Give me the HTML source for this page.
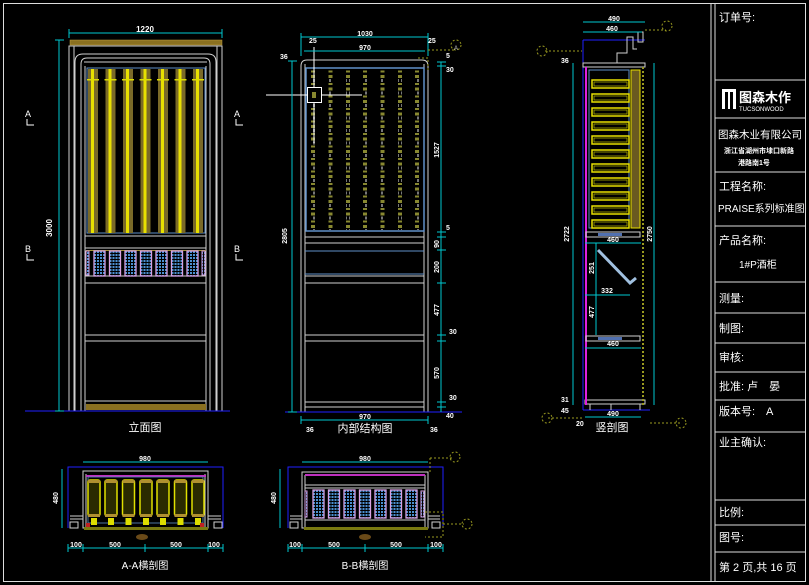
<!DOCTYPE html>
<html><head><meta charset="utf-8"><style>
html,body{margin:0;padding:0;background:#000;width:809px;height:585px;overflow:hidden}
svg{display:block}
text{font-family:"Liberation Sans","Noto Sans CJK SC",sans-serif}
.w{fill:#fff}
</style></head><body>
<svg width="809" height="585" viewBox="0 0 809 585" xmlns="http://www.w3.org/2000/svg">
<defs>
<pattern id="dots" x="0" y="0" width="4" height="12.5" patternUnits="userSpaceOnUse">
<rect x="0" y="0" width="4" height="3" fill="#888830"/><rect x="1" y="4" width="2" height="3" fill="#777"/><rect x="0" y="8" width="4" height="2" fill="#888830"/></pattern>
<pattern id="mesh" width="3" height="3" patternUnits="userSpaceOnUse"><rect width="3" height="3" fill="#000"/><rect width="2" height="2" fill="#4a8fd0"/></pattern>
<g id="bar"><rect x="0" y="0" width="10" height="164" fill="#7a6a28"/><rect x="3" y="0" width="3" height="164" fill="#e8e000"/><rect x="-1" y="10" width="12" height="1.5" fill="#dd0"/></g>
<g id="gr"><rect x="0" y="0" width="11" height="25" fill="url(#mesh)" stroke="#d8a0e0" stroke-width="1.3"/></g>
<g id="gr2"><rect x="0" y="0" width="11" height="28" fill="url(#mesh)" stroke="#d8a0e0" stroke-width="1.3"/></g>
<g id="bot"><rect x="0" y="0" width="12" height="36" rx="2" fill="#2a2a00" stroke="#e0e000" stroke-width="1.5"/><rect x="0" y="0" width="12" height="3" fill="#b09030"/><rect x="0" y="34" width="12" height="3" fill="#b09030"/><rect x="3" y="38" width="6" height="7" fill="#dd0"/></g>
<g id="rung"><rect x="0" y="0" width="37" height="8" fill="none" stroke="#e8e000" stroke-width="1.5"/><rect x="2" y="2" width="33" height="4" fill="none" stroke="#aa0" stroke-width="0.8"/></g>
</defs>

<!-- page frame -->
<rect x="3.5" y="3.5" width="802" height="578" fill="none" stroke="#ddd" stroke-width="1"/>
<line x1="711" y1="3" x2="711" y2="582" stroke="#ddd"/>
<line x1="715" y1="3" x2="715" y2="582" stroke="#ddd"/>
<g stroke="#ddd" stroke-width="1">
<line x1="715" y1="80" x2="806" y2="80"/><line x1="715" y1="118" x2="806" y2="118"/>
<line x1="715" y1="172" x2="806" y2="172"/><line x1="715" y1="226" x2="806" y2="226"/>
<line x1="715" y1="282" x2="806" y2="282"/><line x1="715" y1="313" x2="806" y2="313"/>
<line x1="715" y1="343" x2="806" y2="343"/><line x1="715" y1="372" x2="806" y2="372"/>
<line x1="715" y1="400" x2="806" y2="400"/><line x1="715" y1="432" x2="806" y2="432"/>
<line x1="715" y1="500" x2="806" y2="500"/><line x1="715" y1="525" x2="806" y2="525"/>
<line x1="715" y1="552" x2="806" y2="552"/>
</g>
<g class="w" font-size="11">
<text x="719" y="21">订单号:</text>
<rect x="722" y="89" width="14" height="20" fill="#fff"/><rect x="725" y="92" width="3" height="17" fill="#000"/><rect x="730" y="92" width="3" height="17" fill="#000"/>
<text x="739" y="102" font-size="13" font-weight="bold">图森木作</text>
<text x="739" y="111" font-size="6">TUCSONWOOD</text>
<text x="718" y="138" font-size="10.5">图森木业有限公司</text>
<text x="724" y="153" font-size="7" font-weight="bold">浙江省湖州市埭口新路</text>
<text x="738" y="165" font-size="7" font-weight="bold">港路南1号</text>
<text x="719" y="190">工程名称:</text>
<text x="718" y="212" font-size="10">PRAISE系列标准图</text>
<text x="719" y="244">产品名称:</text>
<text x="739" y="268" font-size="10">1#P酒柜</text>
<text x="719" y="302">测量:</text>
<text x="719" y="332">制图:</text>
<text x="719" y="361">审核:</text>
<text x="719" y="390">批准: 卢　晏</text>
<text x="719" y="415">版本号:　A</text>
<text x="719" y="446">业主确认:</text>
<text x="719" y="516">比例:</text>
<text x="719" y="541">图号:</text>
<text x="719" y="571">第 2 页,共 16 页</text>
</g>

<!-- ========== ELEVATION ========== -->
<g fill="none" stroke="#cfcfcf" stroke-width="1">
<rect x="69" y="46" width="153" height="365"/>
<rect x="74" y="46" width="143" height="365"/>
<path d="M75 411 V62 Q75 54 83 54 H208 Q216 54 216 62 V411"/>
<path d="M81 411 V64 Q81 58 87 58 H204 Q210 58 210 64 V411"/>
<line x1="84" y1="62" x2="207" y2="62"/>
<line x1="85" y1="66" x2="85" y2="411"/><line x1="206" y1="66" x2="206" y2="411"/>
<line x1="85" y1="236" x2="206" y2="236"/><line x1="85" y1="248" x2="206" y2="248"/>
<line x1="85" y1="276" x2="206" y2="276"/><line x1="85" y1="283" x2="206" y2="283"/>
<line x1="85" y1="335" x2="206" y2="335"/><line x1="85" y1="341" x2="206" y2="341"/>
<line x1="85" y1="401" x2="206" y2="401"/>
</g>
<rect x="70" y="40" width="152" height="5" fill="#8a7020" stroke="#c0a040" stroke-width="0.5"/>
<rect x="86" y="404" width="120" height="6" fill="#8a7020"/>
<rect x="87" y="68" width="118" height="165" fill="none" stroke="#6090c8" stroke-width="1"/>
<use href="#bar" x="88" y="69"/><use href="#bar" x="105.5" y="69"/><use href="#bar" x="123" y="69"/><use href="#bar" x="140.5" y="69"/><use href="#bar" x="158" y="69"/><use href="#bar" x="175.5" y="69"/><use href="#bar" x="193" y="69"/>
<rect x="86" y="250" width="120" height="1" fill="#a09030"/>
<g><rect x="86" y="251" width="3" height="24" fill="url(#mesh)" stroke="#d8a0e0"/>
<use href="#gr" x="94" y="251"/><use href="#gr" x="109.5" y="251"/><use href="#gr" x="125" y="251"/><use href="#gr" x="140.5" y="251"/><use href="#gr" x="156" y="251"/><use href="#gr" x="171.5" y="251"/><use href="#gr" x="187" y="251"/>
<rect x="202" y="251" width="3" height="24" fill="url(#mesh)" stroke="#d8a0e0"/></g>
<line x1="25" y1="411" x2="230" y2="411" stroke="#2020ff"/>
<g stroke="#00c8d0" stroke-width="1"><line x1="69" y1="33" x2="222" y2="33"/><line x1="59" y1="40" x2="59" y2="411"/>
<line x1="69" y1="29" x2="69" y2="38"/><line x1="222" y1="29" x2="222" y2="38"/><line x1="55" y1="40" x2="64" y2="40"/><line x1="55" y1="411" x2="64" y2="411"/></g>
<text x="145" y="32" class="w" font-size="8" font-weight="bold" text-anchor="middle">1220</text>
<text x="52" y="228" class="w" font-size="8" font-weight="bold" text-anchor="middle" transform="rotate(-90 52 228)">3000</text>
<g class="w" font-size="9"><text x="25" y="117">A</text><text x="234" y="117">A</text><text x="25" y="252">B</text><text x="234" y="252">B</text></g>
<g stroke="#fff" fill="none"><path d="M27 119 V125 H34"/><path d="M236 119 V125 H243"/><path d="M27 254 V260 H34"/><path d="M236 254 V260 H243"/></g>
<text x="145" y="431" class="w" font-size="11" text-anchor="middle">立面图</text>

<!-- ========== INTERNAL ========== -->
<g fill="none" stroke="#cfcfcf" stroke-width="1">
<path d="M301 412 V66 Q301 60 307 60 H422 Q428 60 428 66 V412"/>
<line x1="305" y1="64" x2="305" y2="412"/><line x1="424" y1="64" x2="424" y2="412"/>
<line x1="305" y1="237" x2="424" y2="237"/><line x1="305" y1="243" x2="424" y2="243"/>
<line x1="305" y1="276" x2="424" y2="276"/><line x1="305" y1="283" x2="424" y2="283"/>
<line x1="305" y1="335" x2="424" y2="335"/><line x1="305" y1="341" x2="424" y2="341"/>
<line x1="305" y1="402" x2="424" y2="402"/><line x1="305" y1="407" x2="424" y2="407"/>
</g>
<rect x="306" y="68" width="118" height="163" fill="none" stroke="#6090c8" stroke-width="1.5"/>
<line x1="305" y1="251" x2="424" y2="251" stroke="#6090c8"/><line x1="305" y1="274" x2="424" y2="274" stroke="#6090c8"/>
<g fill="url(#dots)"><rect x="311" y="70" width="4" height="160"/><rect x="328.5" y="70" width="4" height="160"/><rect x="346" y="70" width="4" height="160"/><rect x="363" y="70" width="4" height="160"/><rect x="380.5" y="70" width="4" height="160"/><rect x="398" y="70" width="4" height="160"/><rect x="415" y="70" width="4" height="160"/></g>
<g stroke="#fff" fill="none"><line x1="266" y1="95" x2="362" y2="95"/><line x1="314" y1="47" x2="314" y2="143"/><rect x="307.5" y="87.5" width="14" height="15" fill="#000"/></g>
<rect x="312" y="92" width="4" height="6" fill="#888830"/>
<line x1="285" y1="412" x2="462" y2="412" stroke="#2020ff"/>
<g stroke="#00c8d0" stroke-width="1">
<line x1="301" y1="37" x2="428" y2="37"/><line x1="304" y1="51" x2="425" y2="51"/><line x1="301" y1="420" x2="428" y2="420"/>
<line x1="292" y1="61" x2="292" y2="412"/><line x1="441" y1="62" x2="441" y2="412"/>
<line x1="301" y1="33" x2="301" y2="56"/><line x1="428" y1="33" x2="428" y2="56"/><line x1="301" y1="416" x2="301" y2="424"/><line x1="428" y1="416" x2="428" y2="424"/>
<g stroke-width="1"><line x1="437" y1="62" x2="446" y2="62"/><line x1="437" y1="66" x2="446" y2="66"/><line x1="437" y1="232" x2="446" y2="232"/><line x1="437" y1="237" x2="446" y2="237"/><line x1="437" y1="250" x2="446" y2="250"/><line x1="437" y1="283" x2="446" y2="283"/><line x1="437" y1="335" x2="446" y2="335"/><line x1="437" y1="341" x2="446" y2="341"/><line x1="437" y1="402" x2="446" y2="402"/><line x1="437" y1="407" x2="446" y2="407"/><line x1="288" y1="61" x2="297" y2="61"/><line x1="288" y1="412" x2="297" y2="412"/></g>
</g>
<g class="w" font-size="7" font-weight="bold">
<text x="365" y="36" text-anchor="middle">1030</text><text x="365" y="50" text-anchor="middle">970</text>
<text x="309" y="43">25</text><text x="428" y="43">25</text><text x="280" y="59">36</text>
<text x="365" y="419" text-anchor="middle">970</text><text x="306" y="432">36</text><text x="430" y="432">36</text>
<text x="446" y="58">5</text><text x="446" y="72">30</text><text x="446" y="230">5</text>
<text x="287" y="236" text-anchor="middle" transform="rotate(-90 287 236)">2805</text>
<text x="439" y="150" text-anchor="middle" transform="rotate(-90 439 150)">1527</text>
<text x="439" y="244" text-anchor="middle" transform="rotate(-90 439 244)">90</text>
<text x="439" y="267" text-anchor="middle" transform="rotate(-90 439 267)">200</text>
<text x="439" y="310" text-anchor="middle" transform="rotate(-90 439 310)">477</text>
<text x="439" y="373" text-anchor="middle" transform="rotate(-90 439 373)">570</text>
<text x="449" y="334">30</text><text x="449" y="400">30</text><text x="446" y="418">40</text>
</g>
<g stroke="#9a9a20" stroke-dasharray="2 2" fill="none"><path d="M428 50 H455 M418 58 H428 V72"/><circle cx="456" cy="45" r="5"/></g>
<text x="456" y="50" fill="#ccc" font-size="6" text-anchor="middle">A</text>
<text x="365" y="432" class="w" font-size="11" text-anchor="middle">内部结构图</text>

<!-- ========== VERTICAL SECTION ========== -->
<line x1="583" y1="40" x2="645" y2="40" stroke="#2020ff"/>
<line x1="583" y1="40" x2="583" y2="410" stroke="#2020ff"/>
<line x1="583" y1="410" x2="650" y2="410" stroke="#2020ff"/>
<g fill="none" stroke="#cfcfcf"><rect x="583" y="63" width="62" height="4"/><path d="M617 63 V53 H627 V37 H633 V49 H637"/><rect x="638" y="32" width="5" height="10"/>
<rect x="585" y="400" width="60" height="4"/><line x1="590" y1="404" x2="590" y2="410"/><line x1="611" y1="404" x2="611" y2="410"/><line x1="640" y1="404" x2="640" y2="410"/></g>
<rect x="585" y="67" width="2" height="338" fill="#e020e0"/>
<rect x="589" y="70" width="40" height="158" fill="none" stroke="#6090c8"/>
<g><use href="#rung" x="592" y="80"/><use href="#rung" x="592" y="94"/><use href="#rung" x="592" y="108"/><use href="#rung" x="592" y="122"/><use href="#rung" x="592" y="136"/><use href="#rung" x="592" y="150"/><use href="#rung" x="592" y="164"/><use href="#rung" x="592" y="178"/><use href="#rung" x="592" y="192"/><use href="#rung" x="592" y="206"/><use href="#rung" x="592" y="220"/></g>
<rect x="631" y="70" width="9" height="158" fill="#6a5a20" stroke="#e8e000"/>
<line x1="643" y1="67" x2="643" y2="405" stroke="#9a9a20" stroke-dasharray="2 2" stroke-width="2"/>
<g fill="none" stroke="#cfcfcf"><rect x="586" y="232" width="54" height="5"/><rect x="586" y="336" width="54" height="5"/></g>
<g fill="#5070b0"><rect x="598" y="233" width="24" height="3"/><rect x="598" y="337" width="24" height="3"/></g>
<path d="M598 250 L630 283 L636 278" fill="none" stroke="#a0c0e0" stroke-width="3"/>
<g stroke="#00c8d0"><line x1="583" y1="22" x2="645" y2="22"/><line x1="583" y1="32" x2="642" y2="32"/>
<line x1="573" y1="63" x2="573" y2="405"/><line x1="654" y1="63" x2="654" y2="405"/>
<line x1="585" y1="243" x2="641" y2="243"/><line x1="585" y1="295" x2="630" y2="295"/><line x1="585" y1="348" x2="641" y2="348"/><line x1="585" y1="417" x2="641" y2="417"/>
<line x1="596" y1="243" x2="596" y2="335"/></g>
<g class="w" font-size="7" font-weight="bold">
<text x="614" y="21" text-anchor="middle">490</text><text x="612" y="31" text-anchor="middle">460</text><text x="561" y="63">36</text>
<text x="613" y="242" text-anchor="middle">460</text><text x="607" y="293" text-anchor="middle">332</text><text x="613" y="346" text-anchor="middle">460</text><text x="613" y="416" text-anchor="middle">490</text>
<text x="569" y="234" text-anchor="middle" transform="rotate(-90 569 234)">2722</text>
<text x="652" y="234" text-anchor="middle" transform="rotate(-90 652 234)">2750</text>
<text x="594" y="268" text-anchor="middle" transform="rotate(-90 594 268)">251</text>
<text x="594" y="312" text-anchor="middle" transform="rotate(-90 594 312)">477</text>
<text x="561" y="402">31</text><text x="561" y="413">45</text><text x="576" y="426">20</text>
</g>
<g stroke="#9a9a20" stroke-dasharray="2 2" fill="none"><path d="M645 30 H666 M545 51 H582 M548 418 H583 M650 423 H680"/><circle cx="667" cy="26" r="5"/><circle cx="542" cy="51" r="5"/><circle cx="547" cy="418" r="5"/><circle cx="681" cy="423" r="5"/></g>
<text x="612" y="431" class="w" font-size="11" text-anchor="middle">竖剖图</text>

<!-- ========== A-A ========== -->
<path d="M68 528 V467 H223 V528" fill="none" stroke="#2020ff"/>
<g fill="none" stroke="#cfcfcf"><rect x="83" y="471" width="125" height="57"/><line x1="86" y1="474" x2="86" y2="528"/><line x1="205" y1="474" x2="205" y2="528"/><path d="M70 516 H83 M70 519 H83 M208 516 H221 M208 519 H221"/><rect x="70" y="522" width="8" height="6"/><rect x="214" y="522" width="8" height="6"/></g>
<rect x="86" y="475" width="120" height="2" fill="#c030c0"/>
<rect x="88" y="477" width="115" height="46" fill="none" stroke="#6090c8" stroke-width="0.8"/>
<use href="#bot" x="88" y="480"/><use href="#bot" x="105" y="480"/><use href="#bot" x="122.5" y="480"/><use href="#bot" x="140" y="480"/><use href="#bot" x="157" y="480"/><use href="#bot" x="174.5" y="480"/><use href="#bot" x="192" y="480"/>
<rect x="84" y="527" width="124" height="3" fill="#7a7a10"/>
<g fill="#c02020"><rect x="86" y="523" width="4" height="4"/><rect x="200" y="523" width="4" height="4"/></g>
<ellipse cx="142" cy="537" rx="6" ry="3" fill="#6a4a18"/>
<g stroke="#00c8d0"><line x1="83" y1="462" x2="208" y2="462"/><line x1="62" y1="469" x2="62" y2="528"/><line x1="68" y1="548" x2="223" y2="548"/>
<line x1="83" y1="544" x2="83" y2="552"/><line x1="145" y1="544" x2="145" y2="552"/><line x1="208" y1="544" x2="208" y2="552"/><line x1="68" y1="544" x2="68" y2="552"/><line x1="223" y1="544" x2="223" y2="552"/></g>
<g class="w" font-size="7" font-weight="bold"><text x="145" y="461" text-anchor="middle">980</text><text x="76" y="547" text-anchor="middle">100</text><text x="115" y="547" text-anchor="middle">500</text><text x="176" y="547" text-anchor="middle">500</text><text x="214" y="547" text-anchor="middle">100</text>
<text x="58" y="498" text-anchor="middle" transform="rotate(-90 58 498)">480</text></g>
<text x="145" y="569" class="w" font-size="10" text-anchor="middle">A-A横剖图</text>

<!-- ========== B-B ========== -->
<path d="M288 528 V467 H443 V528" fill="none" stroke="#2020ff"/>
<g fill="none" stroke="#cfcfcf"><rect x="302" y="472" width="126" height="56"/><line x1="305" y1="475" x2="305" y2="528"/><line x1="425" y1="475" x2="425" y2="528"/><line x1="305" y1="485" x2="425" y2="485"/><line x1="305" y1="488" x2="425" y2="488"/><line x1="305" y1="520" x2="425" y2="520"/><path d="M290 516 H302 M290 519 H302 M428 516 H440 M428 519 H440"/><rect x="290" y="522" width="8" height="6"/><rect x="432" y="522" width="8" height="6"/></g>
<rect x="305" y="474" width="120" height="2" fill="#c030c0"/>
<rect x="305" y="491" width="2" height="26" fill="url(#mesh)" stroke="#d8a0e0"/>
<use href="#gr2" x="313" y="490"/><use href="#gr2" x="328.5" y="490"/><use href="#gr2" x="344" y="490"/><use href="#gr2" x="359.5" y="490"/><use href="#gr2" x="375" y="490"/><use href="#gr2" x="390.5" y="490"/><use href="#gr2" x="406" y="490"/>
<rect x="421" y="491" width="3" height="26" fill="url(#mesh)" stroke="#d8a0e0"/>
<rect x="304" y="527" width="124" height="3" fill="#7a7a10"/>
<ellipse cx="365" cy="537" rx="6" ry="3" fill="#6a4a18"/>
<g stroke="#00c8d0"><line x1="302" y1="462" x2="428" y2="462"/><line x1="280" y1="469" x2="280" y2="528"/><line x1="288" y1="548" x2="443" y2="548"/>
<line x1="302" y1="544" x2="302" y2="552"/><line x1="365" y1="544" x2="365" y2="552"/><line x1="428" y1="544" x2="428" y2="552"/><line x1="288" y1="544" x2="288" y2="552"/><line x1="443" y1="544" x2="443" y2="552"/></g>
<g class="w" font-size="7" font-weight="bold"><text x="365" y="461" text-anchor="middle">980</text><text x="295" y="547" text-anchor="middle">100</text><text x="334" y="547" text-anchor="middle">500</text><text x="396" y="547" text-anchor="middle">500</text><text x="436" y="547" text-anchor="middle">100</text>
<text x="276" y="498" text-anchor="middle" transform="rotate(-90 276 498)">480</text></g>
<g stroke="#9a9a20" stroke-dasharray="2 2" fill="none"><path d="M430 458 H452 M430 458 V472 M425 512 H443 V537 H425 M443 524 H464"/><circle cx="455" cy="457" r="5"/><circle cx="467" cy="524" r="5"/></g>
<text x="365" y="569" class="w" font-size="10" text-anchor="middle">B-B横剖图</text>
</svg>
</body></html>
